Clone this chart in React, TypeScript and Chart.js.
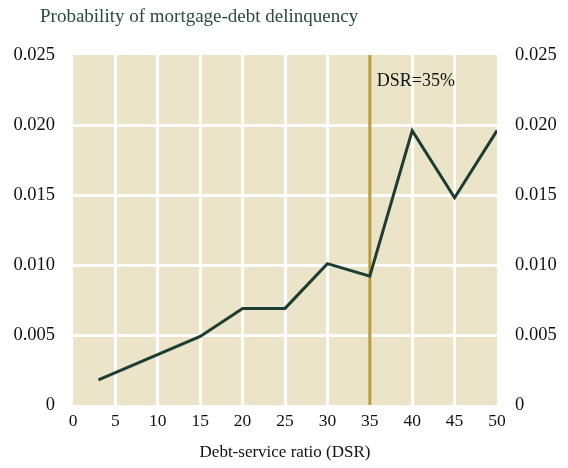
import React, { useEffect, useRef } from "react";
import { Chart, registerables } from "chart.js";

Chart.register(...registerables);

const dsr = [3, 15, 20, 25, 30, 35, 40, 45, 50];
const probability = [0.0018, 0.0049, 0.0069, 0.0069, 0.0101, 0.0092, 0.0196, 0.0148, 0.0196];
const markerDsr = 35;
const markerLabel = "DSR=35%";
const yTicks = [0, 0.005, 0.01, 0.015, 0.02, 0.025];
const chartTitle = "Probability of mortgage-debt delinquency";
const xTitle = "Debt-service ratio (DSR)";

const FONT = "'Liberation Serif', 'Times New Roman', serif";

export default function App() {
  const ref = useRef<HTMLCanvasElement | null>(null);
  useEffect(() => {
    if (!ref.current) return;
    const fmt = (v: number) => (v === 0 ? "0" : v.toFixed(3));
    const bgPlugin = {
      id: "bg",
      beforeDraw(chart: any) {
        const { ctx, chartArea } = chart;
        ctx.save();
        ctx.fillStyle = "#ece4c9";
        ctx.fillRect(chartArea.left, chartArea.top, chartArea.right - chartArea.left, chartArea.bottom - chartArea.top);
        ctx.restore();
      },
      afterDraw(chart: any) {
        const { ctx } = chart;
        ctx.save();
        ctx.fillStyle = "#2b4a40";
        ctx.font = `19px ${FONT}`;
        ctx.textBaseline = "middle";
        ctx.textAlign = "left";
        ctx.fillText(chartTitle, 40, 17);
        const xs = chart.scales.x;
        const ys = chart.scales.y;
        ctx.fillStyle = "#111";
        ctx.font = `18px ${FONT}`;
        ctx.fillText(markerLabel, xs.getPixelForValue(markerDsr) + 7, ys.getPixelForValue(0.0231));
        ctx.restore();
      },
    };
    const chart = new Chart(ref.current, {
      type: "line",
      data: {
        datasets: [
          {
            data: dsr.map((x, i) => ({ x, y: probability[i] })),
            borderColor: "#1d3d33",
            borderWidth: 3,
            pointRadius: 0,
            tension: 0,
            order: 1,
          },
          {
            data: [
              { x: markerDsr, y: 0 },
              { x: markerDsr, y: 0.025 },
            ],
            borderColor: "#b89c3c",
            borderWidth: 3,
            pointRadius: 0,
            order: 2,
          },
        ],
      },
      options: {
        animation: false,
        responsive: true,
        maintainAspectRatio: false,
        layout: { padding: { top: 55, left: 0, right: 0, bottom: 0 } },
        plugins: { legend: { display: false }, tooltip: { enabled: false }, title: { display: false } },
        scales: {
          x: {
            type: "linear",
            min: 0,
            max: 50,
            border: { display: false },
            grid: {
              drawTicks: false,
              lineWidth: 3,
              color: (c: any) => (c.tick && (c.tick.value === 0 || c.tick.value === 50) ? "rgba(0,0,0,0)" : "#ffffff"),
            },
            ticks: { stepSize: 5, padding: 6, color: "#111", font: { family: FONT, size: 17.5 } },
            title: { display: true, text: xTitle, color: "#111", font: { family: FONT, size: 17 }, padding: { top: 4, bottom: 5 } },
            afterFit: (s: any) => {
              s.height = 63;
            },
          },
          y: {
            position: "left",
            min: 0,
            max: 0.025,
            border: { display: false },
            afterBuildTicks: (s: any) => {
              s.ticks = yTicks.map((v) => ({ value: v }));
            },
            grid: {
              drawTicks: false,
              lineWidth: 3,
              color: (c: any) => (c.tick && (c.tick.value === 0 || c.tick.value === 0.025) ? "rgba(0,0,0,0)" : "#ffffff"),
            },
            ticks: { padding: 18, color: "#111", font: { family: FONT, size: 18.5 }, callback: (v: any) => fmt(Number(v)) },
            afterFit: (s: any) => {
              s.width = 73;
            },
          },
          y2: {
            position: "right",
            min: 0,
            max: 0.025,
            border: { display: false },
            afterBuildTicks: (s: any) => {
              s.ticks = yTicks.map((v) => ({ value: v }));
            },
            grid: { display: false, drawTicks: false },
            ticks: { padding: 18, color: "#111", font: { family: FONT, size: 18.5 }, callback: (v: any) => fmt(Number(v)) },
            afterFit: (s: any) => {
              s.width = 71;
            },
          },
        },
      },
      plugins: [bgPlugin],
    });
    return () => chart.destroy();
  }, []);
  return (
    <div style={{ position: "fixed", left: 0, top: 0, width: 568, height: 468 }}>
      <canvas ref={ref} />
    </div>
  );
}
